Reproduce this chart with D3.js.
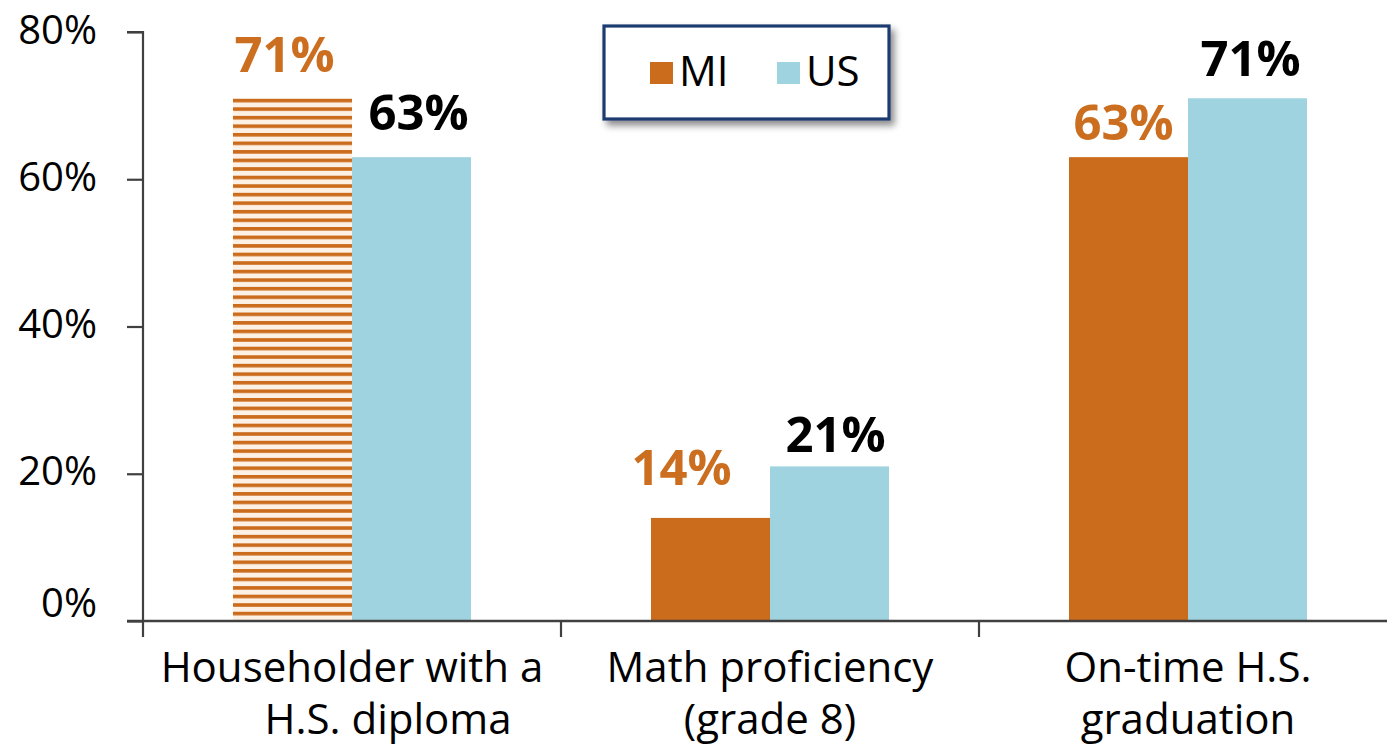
<!DOCTYPE html>
<html>
<head>
<meta charset="utf-8">
<script src="https://cdn.jsdelivr.net/npm/d3@7"></script>
<style>
  html, body { margin: 0; padding: 0; background: #ffffff; }
  svg { display: block; }
</style>
</head>
<body>
<svg id="chart" width="1387" height="750"></svg>
<script>
// ---- data ----
const categories = ["Householder with a H.S. diploma", "Math proficiency (grade 8)", "On-time H.S. graduation"];
const categoryLines = [["Householder with a", "H.S. diploma"], ["Math proficiency", "(grade 8)"], ["On-time H.S.", "graduation"]];
const seriesNames = ["MI", "US"];
const miValues = [0.71, 0.14, 0.63];
const usValues = [0.63, 0.21, 0.71];
const yTicks = [0, 0.2, 0.4, 0.6, 0.8];
const hatchedCategory = "Householder with a H.S. diploma";

// ---- layout / style ----
const W = 1387, H = 750;
const colors = { MI: "#CB6B1C", US: "#A0D3E0" };
const labelColors = { MI: "#CC6E1F", US: "#000000" };
const axisColor = "#404040";
const FONT = "'Open Sans', 'Liberation Sans', sans-serif";
// manual label nudges [dx, dy] as in the original, per series per category
const labelNudge = {
  MI: [[-8, -26], [-29, -33], [-5, -17]],
  US: [[7, -27], [6, -14], [3, -22]]
};
// second-line horizontal nudge of the category labels (as in the original)
const lineNudge = [[0, 36], [0, 0], [0, 0]];

const svg = d3.select("#chart");

const x0 = d3.scaleBand().domain(categories).range([143, 1397])
  .paddingInner(0.4306).paddingOuter(0.2153);
const x1 = d3.scaleBand().domain(seriesNames).range([0, x0.bandwidth()]);
const y = d3.scaleLinear().domain([0, 0.8]).range([621, 32]);

// hatch pattern
const defs = svg.append("defs");
const pat = defs.append("pattern").attr("id", "hatch")
  .attr("patternUnits", "userSpaceOnUse")
  .attr("x", 0).attr("y", y(0.71) + 0.5)
  .attr("width", 20).attr("height", 8.55);
pat.append("rect").attr("width", 20).attr("height", 8.55).attr("fill", "#fdf1e6");
pat.append("rect").attr("y", 0).attr("width", 20).attr("height", 3.6).attr("fill", colors.MI);

const shadow = defs.append("filter").attr("id", "shadow")
  .attr("x", "-10%").attr("y", "-10%").attr("width", "130%").attr("height", "140%");
shadow.append("feDropShadow").attr("dx", 4).attr("dy", 5).attr("stdDeviation", 3.5)
  .attr("flood-color", "#000").attr("flood-opacity", 0.45);

const rows = categories.map((c, i) => ({
  cat: c, i,
  vals: [{ s: "MI", v: miValues[i] }, { s: "US", v: usValues[i] }]
}));

// bars
const g = svg.append("g");
const groups = g.selectAll("g.grp").data(rows).join("g")
  .attr("class", "grp")
  .attr("transform", d => `translate(${x0(d.cat)},0)`);

groups.selectAll("rect").data(d => d.vals.map(v => ({ ...v, cat: d.cat, i: d.i }))).join("rect")
  .attr("x", d => x1(d.s))
  .attr("y", d => y(d.v))
  .attr("width", x1.bandwidth())
  .attr("height", d => y(0) - y(d.v))
  .attr("fill", d => (d.s === "MI" && d.cat === hatchedCategory) ? "url(#hatch)" : colors[d.s]);

// value labels
groups.selectAll("text.val").data(d => d.vals.map(v => ({ ...v, cat: d.cat, i: d.i }))).join("text")
  .attr("class", "val")
  .attr("x", d => x1(d.s) + x1.bandwidth() / 2 + labelNudge[d.s][d.i][0])
  .attr("y", d => y(d.v) + labelNudge[d.s][d.i][1])
  .attr("text-anchor", "middle")
  .attr("font-family", FONT)
  .attr("font-weight", "bold")
  .attr("font-size", 49)
  .attr("fill", d => labelColors[d.s])
  .text(d => d3.format(".0%")(d.v));

// y axis
const yAxis = svg.append("g").attr("transform", "translate(143,0)")
  .call(d3.axisLeft(y).tickValues(yTicks).tickFormat(d3.format(".0%")).tickSize(16).tickPadding(30));
yAxis.select(".domain").attr("stroke", axisColor).attr("stroke-width", 2.2)
  .attr("d", `M-16,${y(0.8)}H0V${y(0)}`);
yAxis.selectAll(".tick line").attr("stroke", axisColor).attr("stroke-width", 2.2);
yAxis.selectAll(".tick text")
  .attr("font-family", FONT).attr("font-size", 40).attr("fill", "#000")
  .attr("dy", d => d === 0 ? "-0.12em" : "0.28em");

// x axis
const xAxis = svg.append("g").attr("transform", `translate(0,${y(0)})`);
xAxis.append("line").attr("x1", 127).attr("x2", W).attr("y1", 0).attr("y2", 0)
  .attr("stroke", axisColor).attr("stroke-width", 2.4);
const boundaries = categories.map(c => x0(c) - x0.step() * x0.paddingOuter());
xAxis.selectAll("line.tk").data(boundaries).join("line").attr("class", "tk")
  .attr("x1", d => d).attr("x2", d => d).attr("y1", 0).attr("y2", 16)
  .attr("stroke", axisColor).attr("stroke-width", 2.2);

const catLabels = svg.append("g").selectAll("text").data(rows).join("text")
  .attr("x", d => x0(d.cat) + x0.bandwidth() / 2)
  .attr("y", 682)
  .attr("text-anchor", "middle")
  .attr("font-family", FONT).attr("font-size", 42).attr("fill", "#000");
catLabels.selectAll("tspan").data(d => categoryLines[d.i].map((t, k) => ({ t, k, i: d.i, cx: x0(d.cat) + x0.bandwidth() / 2 })))
  .join("tspan")
  .attr("x", d => d.cx + lineNudge[d.i][d.k])
  .attr("dy", d => d.k === 0 ? 0 : 52)
  .text(d => d.t);

// legend
const lg = svg.append("g");
lg.append("rect").attr("x", 604).attr("y", 26).attr("width", 285).attr("height", 93)
  .attr("fill", "#fff").attr("stroke", "#1F3A70").attr("stroke-width", 3.2)
  .attr("filter", "url(#shadow)");
const legendX = { MI: 650, US: 777 };
seriesNames.forEach(s => {
  lg.append("rect").attr("x", legendX[s]).attr("y", 62).attr("width", 23).attr("height", 22)
    .attr("fill", colors[s]);
  lg.append("text").attr("x", legendX[s] + 29).attr("y", 86)
    .attr("font-family", FONT).attr("font-size", 42).attr("fill", "#000").text(s);
});
</script>
</body>
</html>
